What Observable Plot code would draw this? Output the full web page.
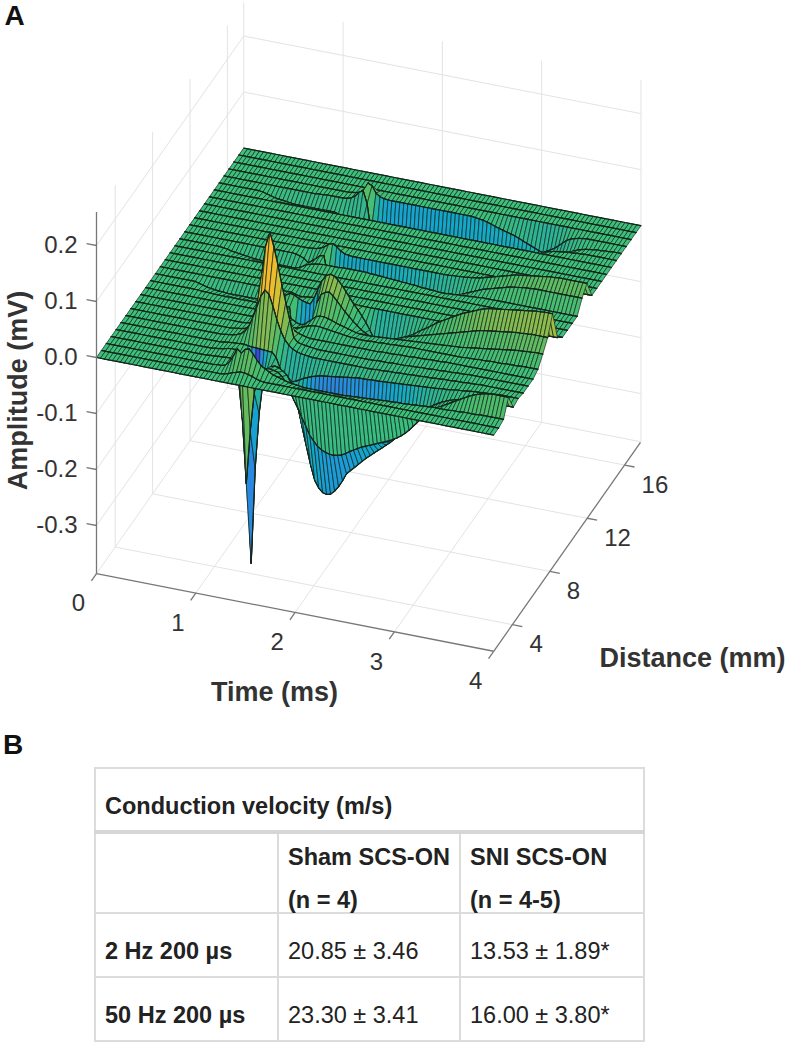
<!DOCTYPE html>
<html><head><meta charset="utf-8">
<script src="https://cdn.jsdelivr.net/npm/d3@7"></script>
<script src="https://cdn.jsdelivr.net/npm/@observablehq/plot@0.6"></script>
<style>
html,body{margin:0;padding:0;background:#fff;width:786px;height:1042px;overflow:hidden;font-family:"Liberation Sans",Arial,sans-serif}
#chart{position:absolute;left:0;top:0}
#letterB{position:absolute;left:3px;top:729px;font-weight:700;font-size:28px;color:#111}
table{position:absolute;left:94px;top:767px;width:549px;height:273px;border-collapse:collapse;table-layout:fixed;font-size:23.5px;color:#222}
td{border:2px solid #dcdcdc;padding:0;position:relative;white-space:nowrap}
td div{position:absolute;left:9px;top:25px;line-height:24px}
td div.two{top:2px;line-height:43px}
tr.head td{border-bottom:4px solid #d6d6d6}
td.b{font-weight:700}
</style></head><body>
<div id="chart"></div><div id="letterB">B</div><table id="tbl"></table>
<script>
// Grid of the surface
const times=[0,.04,.08,.12,.16,.2,.24,.28,.32,.36,.4,.44,.48,.52,.56,.6,.64,.68,.72,.76,.8,.84,.88,.92,.96,1,1.04,1.08,1.12,1.16,1.2,1.24,1.28,1.32,1.36,1.4,1.44,1.48,1.52,1.56,1.6,1.64,1.68,1.72,1.76,1.8,1.84,1.88,1.92,1.96,2,2.04,2.08,2.12,2.16,2.2,2.24,2.28,2.32,2.36,2.4,2.44,2.48,2.52,2.56,2.6,2.64,2.68,2.72,2.76,2.8,2.84,2.88,2.92,2.96,3,3.04,3.08,3.12,3.16,3.2,3.24,3.28,3.32,3.36,3.4,3.44,3.48,3.52,3.56,3.6,3.64,3.68,3.72,3.76,3.8,3.84,3.88,3.92,3.96,4];
const distances=[2,2.525,3.05,3.575,4.1,4.625,5.15,5.675,6.2,6.725,7.25,7.775,8.3,8.825,9.35,9.875,10.4,10.925,11.45,11.975,12.5,13.025,13.55,14.075,14.6,15.125,15.65,16.175,16.7,17.225,17.75];
// Amplitude in microvolts, t = 0.4 ms onward (earlier samples are zero)
const z1=[0,0,0,0,0,0,0,0,0,0, 0,0,0,0,0,0,0,0,0,0, 0,1,3,6,8,10,10,8,6,3, 1,0,0,0,0,0,0,0,0,0, 0,0,0,0,0,0,0,0,0,0, 0,0,0,0,0,0,0,0,0,0, 0,0,0,0,0,0,0,0,0,0, 0,0,0,0,0,0,0,0,0,0, 0,0,0,0,0,0,0,0,0,0,0];
const z2=[0,0,0,0,0,0,0,0,0,0, 0,0,0,0,0,0,0,0,1,1, 3,10,22,36,30,38,40,32,22,14, 10,6,2,0,-2,-4,-6,-7,-8,-9, -10,-10,-10,-10,-10,-10,-10,-10,-10,-10, -10,-9,-9,-8,-8,-8,-7,-7,-6,-6, -5,-5,-5,-4,-4,-4,-3,-3,-2,-2, -1,-1,0,0,0,0,0,1,1,1, 2,2,2,2,3,3,3,3,3,3,3];
const z3=[0,0,0,0,0,0,0,0,0,0, 0,0,0,0,0,1,1,2,2,3, 3,2,-30,-100,-215,-120,-50,-20,-8,-4, -3,-4,-6,-12,-22,-36,-50,-62,-78,-92, -107,-116,-124,-129,-132,-134,-134,-133,-131,-127, -122,-118,-114,-110,-107,-104,-101,-98,-95,-92, -89,-85,-81,-76,-70,-63,-55,-47,-39,-32, -25,-19,-14,-10,-6,-2,2,6,10,14, 18,21,24,26,28,29,30,30,30,30,30];
const z4=[0,0,0,0,0,0,0,0,0,0, 0,0,0,0,0,1,2,3,5,6, 6,0,-50,-200,-370,-200,-100,-40,-20,-12, -10,-12,-16,-22,-34,-62,-82,-115,-145,-175, -200,-212,-219,-221,-219,-212,-203,-191,-177,-170, -163,-156,-149,-142,-136,-130,-124,-118,-112,-106, -99,-92,-85,-77,-64,-56,-48,-41,-35,-29, -24,-20,-16,-13,-10,-8,-6,-4,-3,-2, -1,0,0,0,0,0,0,0,0,0,0];
const z5=[0,0,0,0,0,0,0,0,0,0, 0,0,0,0,0,0,1,2,3,3, 4,4,3,2,2,1,1,0,0,-8, -25,-40,-46,-46,-44,-40,-36,-33,-30,-28, -26,-25,-24,-23,-22,-21,-20,-19,-18,-17, -16,-16,-16,-15,-15,-15,-14,-14,-13,-13, -12,-12,-11,-11,-10,-10,-9,-9,-8,-8, -7,-6,-6,-5,-4,-3,-3,-2,-1,0, 0,1,1,2,2,3,3,3,3,3,3];
const z6=[0,0,0,0,0,0,0,0,0,0, 0,0,0,0,0,1,2,3,5,8, 14,25,42,62,82,94,88,68,45,26, 12,4,-2,-5,-7,-8,-9,-10,-10,-10, -10,-10,-10,-10,-10,-10,-10,-10,-10,-10, -10,-10,-10,-9,-9,-9,-8,-8,-8,-7, -7,-7,-6,-6,-6,-5,-5,-5,-4,-4, -3,-3,-3,-2,-2,-2,-1,-1,-1,0, 0,0,0,0,0,0,0,0,0,0,0];
const z7=[0,0,0,0,0,0,0,0,0,0, 0,0,0,0,0,0,1,2,3,5, 10,25,60,110,160,185,160,130,95,65, 35,5,-2,-4,-5,-6,-7,-8,-8,-8, -8,-8,-8,-8,-8,-8,-8,-8,-8,-8, -8,-8,-7,-7,-7,-7,-6,-6,-6,-6, -5,-5,-5,-4,-4,-4,-3,-3,-3,-2, -2,-2,-1,-1,-1,0,0,0,0,0, 0,0,0,0,0,0,0,0,0,0,0];
const z8=[0,0,0,0,0,0,0,0,0,0, 0,0,0,0,0,0,0,0,1,2, 3,5,8,14,22,28,28,22,14,8, 3,0,-2,-4,-5,-5,-5,-5,-5,-5, -5,-5,-5,-5,-5,-5,-5,-5,-5,-5, -5,-5,-4,-4,-4,-4,-3,-3,-3,-3, -2,-2,-2,-2,-1,-1,-1,-1,0,0, 0,0,0,0,0,0,0,0,0,0, 0,0,0,0,0,0,0,0,0,0,0];
const z9=[0,0,0,0,0,0,0,0,0,0, 0,0,0,0,0,0,0,0,0,0, 0,0,1,2,3,4,2,-2,-5,-6, -4,-1,2,4,5,5,4,3,2,1, 0,-1,-2,-3,-3,-4,-4,-4,-3,-3, -3,-2,-2,-2,-1,-1,-1,0,0,0, 0,0,0,0,0,0,0,0,0,0, 0,0,1,1,1,2,2,2,3,3, 3,3,4,4,4,4,5,5,5,5,5];
const z10=[0,0,0,0,0,0,0,0,0,0, 0,0,0,0,0,0,0,0,0,0, 0,0,0,0,0,0,-2,-6,-10,-12, -10,-4,2,8,10,10,8,6,3,1, -1,-3,-5,-7,-8,-8,-8,-8,-7,-7, -6,-6,-5,-5,-4,-4,-3,-3,-2,-2, -1,-1,0,0,1,1,2,2,3,3, 4,5,6,7,8,9,10,11,12,13, 14,15,16,17,18,18,19,19,20,20,20];
const z11=[0,0,0,-1,-1,-1,-2,-2,-2,-2, -2,-2,-2,-2,-2,-2,-2,-2,-1,-1, 0,0,1,2,2,1,-60,-100,-120,-120, -100,-50,20,35,40,42,36,28,20,12, 5,-2,-8,-14,-18,-22,-24,-25,-25,-24, -22,-20,-18,-15,-12,-10,-8,-6,-4,-2, 0,2,4,6,8,10,12,14,16,18, 20,22,24,26,27,28,29,30,31,32, 33,34,35,35,36,36,37,37,37,37,37];
const z12=[0,-2,-4,-6,-7,-8,-9,-9,-10,-10, -10,-10,-10,-10,-10,-10,-10,-9,-8,-6, -4,-2,2,8,12,10,6,3,1,0, 12,30,46,56,60,58,52,44,34,24, 14,6,-4,-14,-26,-40,-45,-46,-44,-42, -38,-34,-30,-26,-22,-18,-13,-8,-4,1, 6,11,15,19,23,27,31,35,38,41, 44,47,50,52,54,55,56,57,58,59, 60,61,62,63,64,65,66,66,67,67,67];
const z13=[0,0,0,0,0,0,0,0,0,0, 0,0,0,0,0,0,0,0,0,0, 0,0,0,0,-2,-4,-4,-3,-2,-1, 0,0,0,0,0,0,0,0,0,0, 0,0,0,0,0,0,0,0,0,0, 0,0,0,0,0,0,0,0,0,0, 0,0,0,0,0,0,0,0,0,0, 0,1,2,3,4,5,6,6,7,7, 8,8,9,9,10,10,11,11,12,12,12];
const z17=[0,-1,-2,-4,-5,-6,-7,-8,-9,-10, -10,-11,-11,-12,-12,-12,-12,-12,-12,-12, -10,-6,-2,0,2,3,4,4,4,4, 4,5,5,5,5,5,5,5,4,4, 3,3,2,2,1,1,0,0,-1,-1, -2,-3,-3,-4,-4,-5,-5,-5,-4,-4, -3,-3,-2,-2,-1,-1,0,0,0,0, 0,0,0,0,0,0,0,0,0,0, 0,0,0,0,0,0,0,0,0,0,0];
const z18=[0,0,0,0,0,0,0,0,0,0, 0,0,0,0,0,0,0,0,-1,-3, -6,-12,-8,-2,4,6,-30,-70,-95,-100, -102,-102,-100,-100,-98,-98,-96,-95,-94,-92, -90,-88,-85,-82,-78,-74,-70,-66,-62,-58, -54,-50,-46,-42,-38,-34,-30,-26,-22,-18, -14,-11,-8,-5,-2,1,3,5,7,9, 11,13,15,16,17,18,19,19,20,20, 20,20,20,20,20,20,20,20,20,20,20];
const z19=[0,0,0,0,0,0,0,0,0,0, 0,0,0,0,0,0,0,0,0,0, 0,1,2,4,8,14,16,12,6,2, 1,0,0,0,0,0,0,0,0,0, 0,0,0,0,0,0,0,0,0,0, 0,0,0,0,0,0,1,1,2,2, 3,4,5,6,8,10,12,14,16,18, 20,22,24,25,26,27,28,29,30,31, 32,33,33,34,34,34,34,34,34,34,34];
const z25=[0,-1,-3,-5,-7,-8,-9,-10,-11,-12, -12,-12,-12,-12,-12,-12,-12,-12,-12,-12, -14,-18,-20,-22,-24,-25,-25,-25,-24,-24, -22,-20,-18,-16,-15,-15,-15,-15,-15,-15, -15,-16,-16,-17,-18,-20,-22,-24,-25,-26, -26,-26,-26,-25,-25,-25,-24,-24,-24,-24, -24,-24,-24,-23,-23,-23,-23,-22,-22,-21, -18,-14,-10,-8,-6,-5,-4,-3,-2,-2, -1,-1,0,0,0,0,0,0,0,0,0];
const z26=[0,0,0,0,0,0,0,0,0,0, 0,0,0,0,1,1,2,2,2,2, 2,3,5,10,18,22,0,-50,-85,-105, -112,-114,-116,-116,-116,-115,-115,-114,-114,-113, -113,-112,-112,-111,-110,-110,-109,-108,-107,-106, -105,-104,-103,-102,-100,-98,-96,-94,-92,-90, -88,-86,-84,-81,-78,-75,-72,-68,-64,-60, -54,-48,-42,-36,-30,-24,-20,-16,-12,-9, -7,-5,-4,-3,-2,-2,-1,-1,0,0,0];
const z27=[0,0,0,0,0,0,0,0,0,0, 0,0,0,0,0,0,0,0,0,0, 0,1,2,4,10,23,20,8,3,1, 0,0,0,0,0,0,0,0,0,0, 0,0,0,0,0,0,0,0,0,0, 0,0,-1,-2,-3,-5,-7,-10,-12,-14, -16,-18,-20,-23,-26,-29,-32,-35,-38,-40, -36,-32,-28,-22,-16,-10,-6,-4,-2,-1, 0,0,0,0,0,0,0,0,0,0,0];
const quiet=null; // rows that stay on the baseline
const rows=[quiet,z1,z2,z3,z4,z5,z6,z7,z8,z9,z10,z11,z12,z13,quiet,quiet,quiet,z17,z18,z19,quiet,quiet,quiet,quiet,quiet,z25,z26,z27,quiet,quiet,quiet];
const lead=times.length-z2.length;
const amp=(i,j)=>{const r=rows[i];return r&&j>=lead?r[j-lead]/1000:0;};

const timeTicks=[0,1,2,3,4],distTicks=[4,8,12,16],ampTicks=[-.3,-.2,-.1,0,.1,.2];
const zFloor=-.386,zTop=.26,dMin=2,dMax=17.75,dAxisEnd=17.7;
// Oblique view of the box
const px=(t,d)=>96+99.3*t+9.35*(d-2);
const py=(t,d,a)=>357+19.4*t-13.3*(d-2)-560*a;
const P=(t,d,a)=>({sx:px(t,d),sy:py(t,d,a)});

// Surface: cells from the back row forward, the same order as a depth sort
const verts=[];let key=0;
const cellValue=(f,b)=>f<0?f:(b>f?(f+b)/2:f);
for(let i=distances.length-2;i>=0;i--){
  for(let j=0;j<times.length-1;j++){
    const d0=distances[i],d1=distances[i+1],t0=times[j],t1=times[j+1];
    const f0=amp(i,j),f1=amp(i,j+1),b0=amp(i+1,j),b1=amp(i+1,j+1);
    const val=cellValue(f0,b0);
    const corners=[P(t0,d0,f0),P(t1,d0,f1),P(t1,d1,b1),P(t0,d1,b0),P(t0,d0,f0)];
    key++;for(const c of corners)verts.push({...c,key,val,sw:.7});
    key++;verts.push({...corners[2],key,val,sw:1.2},{...corners[3],key,val,sw:1.2});
    key++;verts.push({...corners[0],key,val,sw:1.2},{...corners[1],key,val,sw:1.2});
  }
}
// Box grid
const grid=[];
const seg=(a,b)=>grid.push({x1:a.sx,y1:a.sy,x2:b.sx,y2:b.sy});
for(const d of distTicks){seg(P(0,d,zFloor),P(4,d,zFloor));seg(P(0,d,zFloor),P(0,d,zTop));}
for(const t of timeTicks){if(t<4)seg(P(t,dMin,zFloor),P(t,dMax,zFloor));seg(P(t,dMax,zFloor),P(t,dMax,zTop));}
for(const a of ampTicks){seg(P(0,dMin,a),P(0,dMax,a));seg(P(0,dMax,a),P(4,dMax,a));}
seg(P(0,dMax,zFloor),P(4,dMax,zFloor));
// Axes
const axes=[];const ax=(a,b)=>axes.push({x1:a.sx,y1:a.sy,x2:b.sx,y2:b.sy});
ax(P(0,dMin,zFloor),P(0,dMin,zTop));ax(P(0,dMin,zFloor),P(4,dMin,zFloor));ax(P(4,dMin,zFloor),P(4,dAxisEnd,zFloor));
for(const a of ampTicks)ax(P(0,dMin,a),P(-.1,dMin,a));
for(const t of timeTicks)ax(P(t,dMin,zFloor),P(t,dMin-.55,zFloor));
for(const d of distTicks)ax(P(4,d,zFloor),P(4.1,d,zFloor));

const fmtAmp=a=>a.toFixed(1);
const textStyle={fontFamily:"Liberation Sans",fill:"#333"};
const plot=Plot.plot({
  width:786,height:725,margin:0,
  x:{domain:[0,786],range:[0,786],axis:null},
  y:{domain:[0,725],range:[0,725],axis:null},
  color:{type:"linear",
    domain:[-.37,-.3,-.22,-.14,-.11,-.07,-.03,-.012,0,.02,.05,.08,.11,.14,.19],
    range:["#3d45e0","#3060f0","#2a88e0","#2098dc","#12a6cc","#1cb0b4","#2eb492","#38ba84","#3cc07a","#52bc68","#8abb4e","#b4bf3c","#e6c02e","#f6b82c","#f8ae28"]},
  marks:[
    Plot.link(grid,{x1:"x1",y1:"y1",x2:"x2",y2:"y2",stroke:"#e3e3e3",strokeWidth:1}),
    Plot.line(verts,{x:"sx",y:"sy",z:"key",fill:"val",stroke:"#14261c",strokeWidth:"sw",curve:"linear",strokeLinejoin:"round"}),
    Plot.link(axes,{x1:"x1",y1:"y1",x2:"x2",y2:"y2",stroke:"#777",strokeWidth:1.3}),
    Plot.text(ampTicks,{x:a=>px(0,dMin),y:a=>py(0,dMin,a),text:fmtAmp,dx:-19,textAnchor:"end",fontSize:24,...textStyle}),
    Plot.text(timeTicks,{x:t=>px(t,dMin),y:t=>py(t,dMin,zFloor),text:t=>String(t),dx:-18,dy:30,fontSize:24,...textStyle}),
    Plot.text(distTicks,{x:d=>px(4,d),y:d=>py(4,d,zFloor),text:d=>String(d),dx:17,dy:20,textAnchor:"start",fontSize:24,...textStyle}),
    Plot.text(["Amplitude (mV)"],{x:()=>18,y:()=>390,text:d=>d,rotate:-90,fontSize:27,fontWeight:700,...textStyle}),
    Plot.text(["Time (ms)"],{x:()=>274,y:()=>692,text:d=>d,fontSize:27,fontWeight:700,...textStyle}),
    Plot.text(["Distance (mm)"],{x:()=>692,y:()=>658,text:d=>d,fontSize:27,fontWeight:700,...textStyle}),
    Plot.text(["A"],{x:()=>14,y:()=>16,text:d=>d,fontSize:28,fontWeight:700,fontFamily:"Liberation Sans",fill:"#111"})
  ]
});
document.getElementById("chart").append(plot);

// Table B
const tableTitle="Conduction velocity (m/s)";
const groupHeads=[["Sham SCS-ON","(n = 4)"],["SNI SCS-ON","(n = 4-5)"]];
const protocols=["2 Hz 200 µs","50 Hz 200 µs"];
const velocity=[["20.85 ± 3.46","13.53 ± 1.89*"],["23.30 ± 3.41","16.00 ± 3.80*"]];
const tbl=document.getElementById("tbl");
let html=`<colgroup><col style="width:183px"><col style="width:182px"><col style="width:184px"></colgroup>`;
html+=`<tr class="head" style="height:64px"><td class="b" colspan="3"><div>${tableTitle}</div></td></tr>`;
html+=`<tr style="height:81px"><td></td>${groupHeads.map(h=>`<td class="b"><div class="two">${h.join("<br>")}</div></td>`).join("")}</tr>`;
protocols.forEach((p,i)=>{html+=`<tr style="height:64px"><td class="b"><div>${p}</div></td>${velocity[i].map(v=>`<td><div>${v}</div></td>`).join("")}</tr>`;});
tbl.innerHTML=html;
</script></body></html>
